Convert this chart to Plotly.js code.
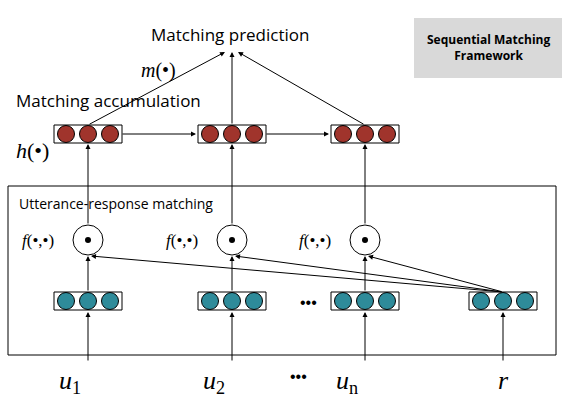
<!DOCTYPE html><html><head><script src="https://cdn.plot.ly/plotly-3.0.1.min.js"></script></head><body style="margin:0"><div id="g" style="width:564px;height:408px"></div><script>
const stepX=[88,232,365];          // centres of utterance columns
const respX=503;                   // response column
const hY=134, eY=301, fY=240;      // row levels
const offs=[-22,0,22];
const uSubs=['1','2','n'];
const fLabel='<i>f</i>(•,•)';
const red='#a0342c', teal='#2e8b9a';
const shapes=[], ann=[];
const box=(cx,cy)=>shapes.push({type:'rect',x0:cx-34,x1:cx+34,y0:cy-9,y1:cy+9,line:{color:'#000',width:1}});
const arrow=(x0,y0,x1,y1)=>ann.push({x:x1,y:y1,ax:x0,ay:y0,xref:'x',yref:'y',axref:'x',ayref:'y',showarrow:true,arrowhead:2,arrowsize:1,arrowwidth:1,arrowcolor:'#000',text:''});
const txt=(x,y,t,s,f,o)=>ann.push(Object.assign({x,y,xref:'x',yref:'y',text:t,showarrow:false,font:{size:s,family:f||'Liberation Sans',color:'#000'}},o||{}));
shapes.push({type:'rect',x0:8,x1:556,y0:186,y1:355,line:{color:'#000',width:1}});
shapes.push({type:'rect',x0:414,x1:562,y0:18,y1:78,fillcolor:'#d9d9d9',line:{width:0}});
const rx=[],ry=[],tx=[],ty=[];
stepX.forEach((x,i)=>{box(x,hY);box(x,eY);offs.forEach(o=>{rx.push(x+o);ry.push(hY);tx.push(x+o);ty.push(eY);});
 shapes.push({type:'circle',x0:x-15,x1:x+15,y0:fY-15,y1:fY+15,line:{color:'#000',width:1}});
 arrow(x,eY-9,x,fY+16);arrow(x,fY-15,x,hY+10);arrow(x,362,x,eY+11);
 txt(x-50,fY,fLabel,17,'Liberation Serif');
 txt(x-18,382,'<i>u</i><sub>'+uSubs[i]+'</sub>',26,'Liberation Serif');
 arrow(respX,eY-9,x+3,fY+16);
 arrow(x,hY-9,[225,232,238][i],52);
});
box(respX,eY);offs.forEach(o=>{tx.push(respX+o);ty.push(eY);});
arrow(respX,362,respX,eY+11);
arrow(121,hY,196,hY);arrow(265,hY,329,hY);
txt(respX,380,'<i>r</i>',26,'Liberation Serif');
txt(230,34,'Matching prediction',17,'Open Sans');
txt(108,100,'Matching accumulation',17,'Open Sans');
txt(158,70,'<i>m</i>(•)',20,'Liberation Serif');
txt(32,150,'<i>h</i>(•)',22,'Liberation Serif');
txt(17,203,'Utterance-response matching',14,'Open Sans',{xanchor:'left'});
txt(308,302,'•••',16);txt(298,376,'•••',16);
txt(488,47,'<b>Sequential Matching<br>Framework</b>',12,'Open Sans');
const dots={x:stepX,y:stepX.map(()=>fY),mode:'markers',marker:{size:6,color:'#000'},type:'scatter',hoverinfo:'none'};
Plotly.newPlot('g',[
 {x:rx,y:ry,mode:'markers',type:'scatter',marker:{size:17,color:red,line:{color:'#000',width:1}}},
 {x:tx,y:ty,mode:'markers',type:'scatter',marker:{size:17,color:teal,line:{color:'#000',width:1}}},dots],
 {width:564,height:408,margin:{l:0,r:0,t:0,b:0},showlegend:false,plot_bgcolor:'#fff',paper_bgcolor:'#fff',
  xaxis:{range:[0,564],visible:false,fixedrange:true},yaxis:{range:[408,0],visible:false,fixedrange:true},shapes,annotations:ann},{staticPlot:true});
</script></body></html>
